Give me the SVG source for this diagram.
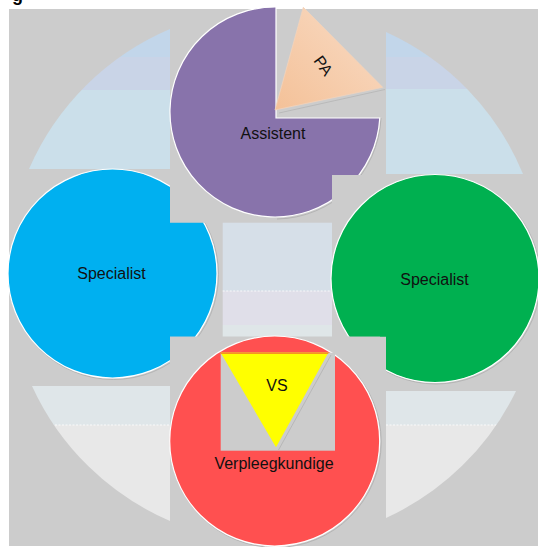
<svg xmlns="http://www.w3.org/2000/svg" width="538" height="547" viewBox="0 0 538 547">
  <style>
    .lbl { font-family: "Liberation Sans", Arial, sans-serif; font-size: 16px; fill: #111; text-anchor: middle; }
    .ring { stroke: #ffffff; stroke-width: 1.2; }
    .shadow { fill: none; stroke: #b4b4b4; stroke-width: 1; }
    .gray { fill: #cccccc; }
    .dash { stroke: #ffffff; stroke-width: 0.8; stroke-dasharray: 2 1.5; }
  </style>
  <defs>
    <clipPath id="fanTL"><path d="M170,29 L170,169 L29,169 A268,268 0 0 1 170,29 Z"/></clipPath>
    <clipPath id="fanTR"><path d="M386,32 L386,174 L523,174 A268,268 0 0 0 386,32 Z"/></clipPath>
    <clipPath id="fanBL"><path d="M32,386 L170,386 L170,521 A268,268 0 0 1 32,386 Z"/></clipPath>
    <clipPath id="fanBR"><path d="M386,391 L516,391 A268,268 0 0 1 386,518 Z"/></clipPath>
    <clipPath id="clipBlue">
      <rect x="0" y="0" width="170" height="547"/>
      <rect x="170" y="222.7" width="60" height="114"/>
    </clipPath>
    <clipPath id="clipGreen">
      <rect x="386" y="0" width="152" height="547"/>
      <rect x="300" y="0" width="86" height="336.7"/>
    </clipPath>
    <linearGradient id="peach" x1="0" y1="1" x2="1" y2="0">
      <stop offset="0" stop-color="#f4c198"/>
      <stop offset="1" stop-color="#f9dcc6"/>
    </linearGradient>
  </defs>

  <text x="12" y="1" style="font-family:'Liberation Sans',Arial,sans-serif;font-size:18px;font-weight:bold;fill:#000">g</text>

  <rect x="9" y="9" width="529" height="537" class="gray"/>

  <g id="fans">
    <g clip-path="url(#fanTL)">
      <rect x="20" y="29" width="150" height="28" fill="#c2d6ea"/>
      <rect x="20" y="57" width="150" height="33" fill="#c9d4e7"/>
      <rect x="20" y="90" width="150" height="79" fill="#cbdfea"/>
    </g>
    <g clip-path="url(#fanTR)">
      <rect x="386" y="32" width="150" height="25" fill="#c2d6ea"/>
      <rect x="386" y="57" width="150" height="32" fill="#c9d4e7"/>
      <rect x="386" y="89" width="150" height="85" fill="#cbdfea"/>
    </g>
    <g clip-path="url(#fanBL)">
      <rect x="20" y="386" width="150" height="39" fill="#dfe6e9"/>
      <rect x="20" y="425" width="150" height="100" fill="#e8e8e8"/>
      <line x1="20" y1="425" x2="170" y2="425" class="dash"/>
    </g>
    <g clip-path="url(#fanBR)">
      <rect x="386" y="391" width="140" height="34" fill="#dfe6e9"/>
      <rect x="386" y="425" width="140" height="100" fill="#e8e8e8"/>
      <line x1="386" y1="425" x2="526" y2="425" class="dash"/>
    </g>
  </g>

  <g id="center">
    <rect x="222.7" y="222.7" width="109.6" height="68.3" fill="#d6dfe8"/>
    <rect x="222.7" y="291" width="109.6" height="34" fill="#e0dfe9"/>
    <rect x="222.7" y="325" width="109.6" height="11.7" fill="#dfe6e8"/>
    <line x1="222.7" y1="291" x2="332.3" y2="291" class="dash"/>
  </g>

  <g id="connectors"></g>

  <g id="node-specialist-left" clip-path="url(#clipBlue)">
    <circle cx="113.5" cy="274.5" r="105" class="shadow"/>
    <circle cx="112.5" cy="273.5" r="104.5" fill="#00b0f0" class="ring"/>
    <text x="111.5" y="278.5" class="lbl">Specialist</text>
  </g>

  <g id="node-assistent">
    <path d="M381,118 A106,106 0 0 1 277,219" class="shadow"/>
    <path d="M276,7 L276,118 L379.8,118 A105,105 0 1 1 276,7 Z" fill="#8873ab" class="ring"/>
    <text x="273" y="139" class="lbl">Assistent</text>
  </g>

  <g id="node-pa">
    <line x1="279" y1="113" x2="385" y2="89.5" stroke="#b8b8b8" stroke-width="0.9"/>
    <polygon points="303.3,7.3 382.7,87.3 275,110" fill="url(#peach)" stroke="#f2d3bb" stroke-width="0.8"/>
    <text x="0" y="0" class="lbl" transform="translate(323,66) rotate(54)" dy="5">PA</text>
  </g>

  <g id="node-specialist-right">
    <rect x="332" y="175" width="206" height="208" class="gray"/>
    <g clip-path="url(#clipGreen)">
      <circle cx="436" cy="279.5" r="104.5" class="shadow"/>
      <circle cx="435" cy="278.5" r="104" fill="#00b050" class="ring"/>
      <text x="434.5" y="285" class="lbl">Specialist</text>
    </g>
  </g>

  <g id="node-verpleegkundige">
    <rect x="170" y="336.7" width="210" height="209.3" class="gray"/>
    <circle cx="275.7" cy="442" r="105.5" class="shadow"/>
    <circle cx="274.7" cy="441" r="105" fill="#ff5050" class="ring"/>
    <rect x="220.7" y="352.7" width="114.3" height="98" class="gray"/>
    <text x="274" y="469.3" class="lbl">Verpleegkundige</text>
  </g>

  <g id="node-vs">
    <line x1="331" y1="355" x2="278.5" y2="450" stroke="#b4b4b4" stroke-width="0.9"/>
    <polygon points="220.7,352.7 328.3,352.7 276,447.3" fill="#ffff00"/>
    <line x1="220.7" y1="353.3" x2="328.3" y2="353.3" stroke="#f7941d" stroke-width="1.4"/>
    <text x="277" y="391" class="lbl">VS</text>
  </g>
</svg>
